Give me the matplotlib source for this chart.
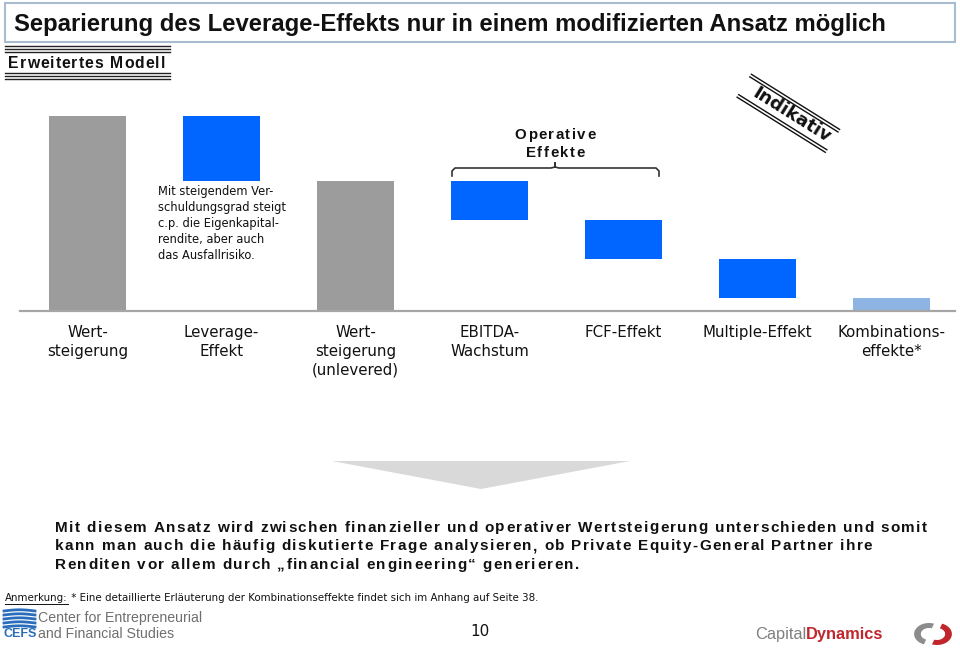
import numpy as np
import matplotlib
matplotlib.use("Agg")
import matplotlib.pyplot as plt
from matplotlib.transforms import Affine2D
from matplotlib.patches import Rectangle, Polygon, Wedge
from matplotlib.lines import Line2D
from matplotlib import font_manager
from matplotlib.font_manager import FontProperties
from matplotlib.ft2font import FT2Font
try:
    from matplotlib.ft2font import LoadFlags
    NOHINT = LoadFlags.NO_HINTING
except Exception:
    from matplotlib.ft2font import LOAD_NO_HINTING as NOHINT

# ---------------- data ----------------
categories = ["Wert-\nsteigerung", "Leverage-\nEffekt", "Wert-\nsteigerung\n(unlevered)",
              "EBITDA-\nWachstum", "FCF-Effekt", "Multiple-Effekt", "Kombinations-\neffekte*"]
values = [100.0, 33.3, 66.7, 20.0, 20.0, 20.0, 6.7]
kinds = ["total", "delta", "total", "delta", "delta", "delta", "delta"]
bar_colors = ["#9c9c9c", "#0066ff", "#9c9c9c", "#0066ff", "#0066ff", "#0066ff", "#8db4e3"]

title = "Separierung des Leverage-Effekts nur in einem modifizierten Ansatz möglich"
subtitle = "Erweitertes Modell"
note_lever = "Mit steigendem Ver-\nschuldungsgrad steigt\nc.p. die Eigenkapital-\nrendite, aber auch\ndas Ausfallrisiko."
brace_label = ["Operative", "Effekte"]
stamp = "Indikativ"
conclusion = ["Mit diesem Ansatz wird zwischen finanzieller und operativer Wertsteigerung unterschieden und somit",
              "kann man auch die häufig diskutierte Frage analysieren, ob Private Equity-General Partner ihre",
              "Renditen vor allem durch „financial engineering“ generieren."]
footnote_head = "Anmerkung:"
footnote_body = " * Eine detaillierte Erläuterung der Kombinationseffekte findet sich im Anhang auf Seite 38."
page_no = "10"

# waterfall geometry from the values
bottoms, heights = [], []
level = 0.0
for v, k in zip(values, kinds):
    if k == "total":
        bottoms.append(0.0); heights.append(v); level = v
    else:
        bottoms.append(level - v); heights.append(v); level -= v

# ---------------- figure ----------------
W, H = 960, 648
fig = plt.figure(figsize=(W / 100, H / 100), dpi=100)
fig.patch.set_facecolor("white")
T = Affine2D().scale(1 / W, -1 / H).translate(0, 1) + fig.transFigure


def advances(s, size, family, weight):
    path = font_manager.findfont(FontProperties(family=family, weight=weight))
    f = FT2Font(path)
    f.set_size(size, 100)
    return [f.load_char(ord(c), flags=NOHINT).linearHoriAdvance / 65536 for c in s]


def tracked(x, y, s, size, family="Liberation Sans", weight="bold", color="#111111",
            target=None, tracking=0.0, ha="left"):
    adv = advances(s, size, family, weight)
    if target is not None:
        tracking = (target - sum(adv)) / (len(s) - 1)
    total = sum(adv) + tracking * (len(s) - 1)
    cx = x - total / 2 if ha == "center" else x
    for c, a in zip(s, adv):
        if c != " ":
            fig.text(cx, y, c, transform=T, ha="left", va="baseline", fontsize=size,
                     fontweight=weight, family=family, color=color)
        cx += a + tracking
    return tracking


# chart axes: baseline at y=311px, value 100 at y=116px
ax = fig.add_axes([20 / W, 1 - 311 / H, 935 / W, (311 - 116) / H])
x = np.arange(len(categories))
ax.bar(x, heights, bottom=bottoms, width=0.575, color=bar_colors, clip_on=False, zorder=2)
ax.set_xlim(-67.5 / 134, (955 - 87.5) / 134)
ax.set_ylim(0, 100)
ax.axis("off")
ax.axhline(0, color="#a6a6a6", lw=1.6, zorder=3, clip_on=False)

for xi, lab in zip(x, categories):
    ax.annotate(lab, xy=(xi, 0), xycoords="data", xytext=(0, -10), textcoords="offset points",
                ha="center", va="top", fontsize=10.8, linespacing=1.32, color="#111111",
                family="DejaVu Sans", annotation_clip=False)

# ---------------- title box ----------------
fig.add_artist(Rectangle((5, 3), 950, 39, transform=T, fill=False, edgecolor="#a9bccf", lw=1.5))
fig.text(14, 31.5, title, transform=T, ha="left", va="baseline", fontsize=17.2,
         fontweight="bold", family="Liberation Sans", color="#111111")

# sub header with triple rules
for yy in (46, 49, 52, 73, 76, 79):
    fig.add_artist(Line2D([5, 170], [yy, yy], transform=T, color="#222222", lw=1.0))
tracked(8, 68.5, subtitle, 11.3, target=157)

# leverage note
fig.text(158, 185, note_lever, transform=T, ha="left", va="top", fontsize=8.3,
         linespacing=1.3, family="DejaVu Sans", color="#111111")

# brace over operative effects
brace_x = [452, 452, 455, 551, 555, 555, 555, 559, 656, 659, 659]
brace_y = [176, 171, 168, 168, 167, 163, 167, 168, 168, 171, 176]
fig.add_artist(Line2D(brace_x, brace_y, transform=T, color="#333333", lw=1.2))
tr = tracked(555, 139, brace_label[0], 10.8, target=81, ha="center")
tracked(555, 157.3, brace_label[1], 10.8, tracking=tr, ha="center")

# Indikativ stamp
ang = np.deg2rad(32)
cx, cy = 792, 115
d = np.array([np.cos(ang), np.sin(ang)])
n = np.array([-np.sin(ang), np.cos(ang)])
for off in (-13, -10, 11, 14):
    p0 = np.array([cx, cy]) + d * -56 + n * off
    p1 = np.array([cx, cy]) + d * 48 + n * off
    fig.add_artist(Line2D([p0[0], p1[0]], [p0[1], p1[1]], transform=T, color="#111111", lw=1.0))
fig.text(cx, cy, stamp, transform=T, rotation=-32, rotation_mode="anchor", ha="center",
         va="center", fontsize=13, fontweight="bold", family="DejaVu Sans", color="#111111")

# down arrow
fig.add_artist(Polygon([(332, 461), (630, 461), (481, 489)], closed=True, transform=T,
                       facecolor="#d9d9d9", edgecolor="none"))

# conclusion text (letter-spaced)
tr = tracked(55, 531.5, conclusion[0], 11, target=872)
tracked(55, 550.2, conclusion[1], 11, tracking=tr)
tracked(55, 568.9, conclusion[2], 11, tracking=tr)

# footnote
th = fig.text(5, 598, footnote_head, transform=T, ha="left", va="center", fontsize=7.4,
              family="DejaVu Sans", color="#111111")
fig.canvas.draw()
bb = th.get_window_extent(fig.canvas.get_renderer())
fig.add_artist(Line2D([5, 5 + bb.width], [603.5, 603.5], transform=T, color="#111111", lw=0.7))
fig.text(5 + bb.width, 598, footnote_body, transform=T, ha="left", va="center", fontsize=7.4,
         family="DejaVu Sans", color="#111111")

# page number
fig.text(480, 631, page_no, transform=T, ha="center", va="center", fontsize=11,
         family="DejaVu Sans", color="#111111")

# CEFS logo (approximation)
for k in range(5):
    yy = 611 + 4 * k
    xs = np.linspace(4, 35, 20)
    ys = yy - 1.2 * np.sin((xs - 4) / 31 * np.pi)
    fig.add_artist(Line2D(xs, ys, transform=T, color="#2a6ebb", lw=2.0))
fig.text(3, 634, "CEFS", transform=T, ha="left", va="center", fontsize=9, fontweight="bold",
         family="Liberation Sans", color="#2a6ebb")
fig.text(38, 618, "Center for Entrepreneurial", transform=T, ha="left", va="center",
         fontsize=10.2, family="Liberation Sans", color="#6f6f6f")
fig.text(38, 634, "and Financial Studies", transform=T, ha="left", va="center",
         fontsize=10.2, family="Liberation Sans", color="#6f6f6f")

# Capital Dynamics logo (approximation)
tc = fig.text(755, 634, "Capital", transform=T, ha="left", va="center", fontsize=11.8,
              family="Liberation Sans", color="#7f7f7f")
fig.canvas.draw()
bb2 = tc.get_window_extent(fig.canvas.get_renderer())
fig.text(755 + bb2.width, 634, "Dynamics", transform=T, ha="left", va="center", fontsize=11.8,
         fontweight="bold", family="Liberation Sans", color="#c0272d")
logo_ax = fig.add_axes([906 / W, 1 - 647 / H, 54 / W, 26 / H])
logo_ax.set_xlim(0, 40); logo_ax.set_ylim(0, 26); logo_ax.axis("off")
logo_ax.add_patch(Wedge((17, 13), 11, 70, 250, width=5, facecolor="#8c8c8c", edgecolor="none"))
logo_ax.add_patch(Wedge((23, 13), 11, 250, 430, width=5, facecolor="#c0272d", edgecolor="none"))

fig.savefig("out.png", dpi=100, facecolor="white")
